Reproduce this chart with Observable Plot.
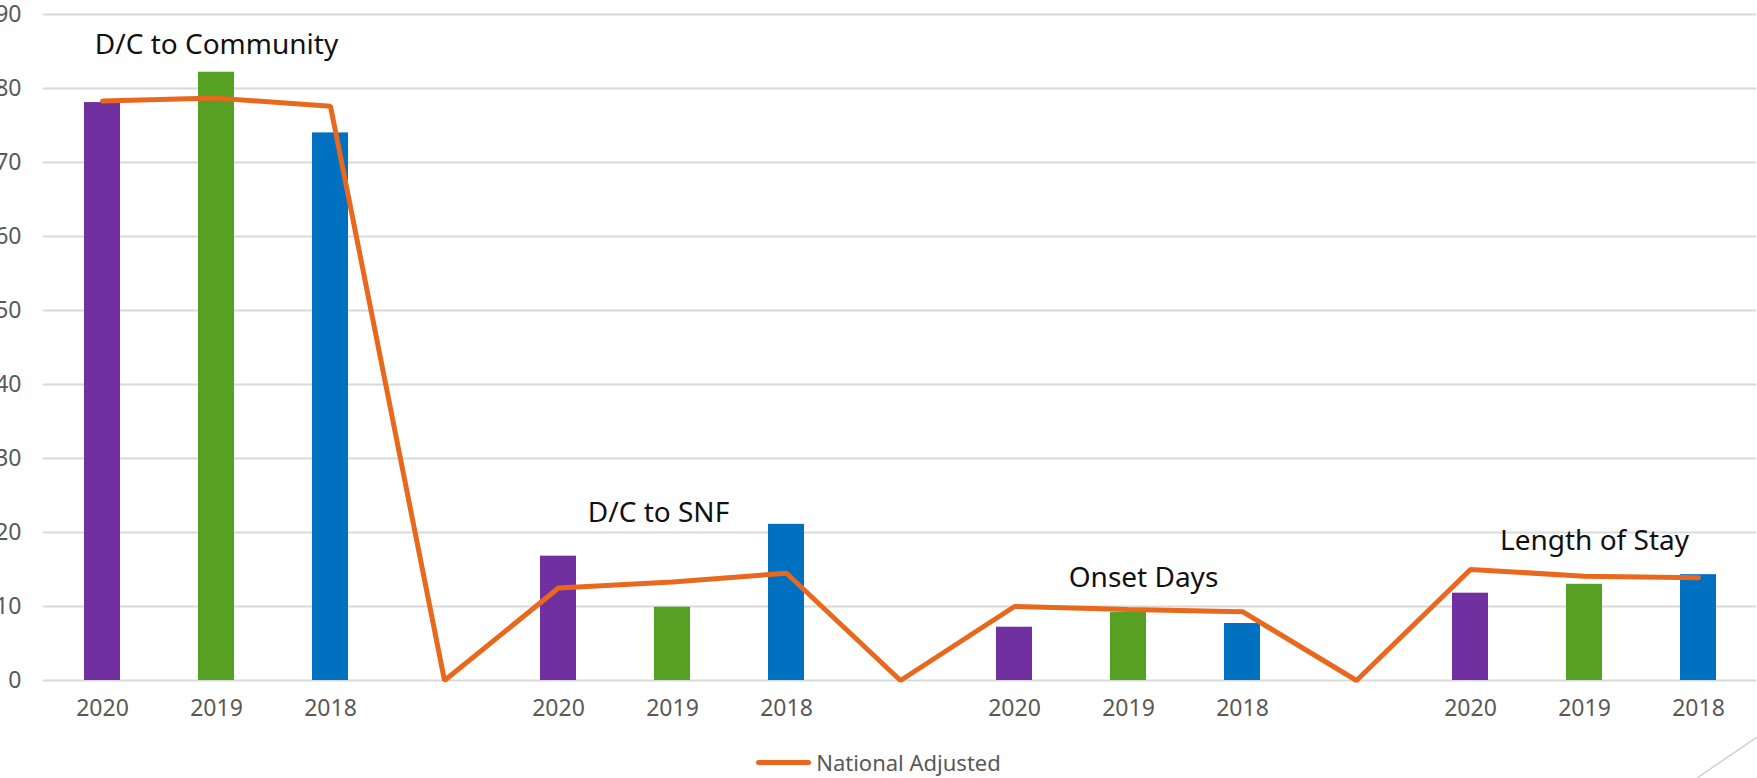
<!DOCTYPE html>
<html>
<head>
<meta charset="utf-8">
<script src="https://cdn.jsdelivr.net/npm/d3@7"></script>
<script src="https://cdn.jsdelivr.net/npm/@observablehq/plot@0.6"></script>
<style>
  html, body { margin: 0; padding: 0; background: #fff; }
  #wrap { position: relative; width: 1757px; height: 778px; overflow: hidden; }
  #legend { display: flex; justify-content: center; align-items: center; height: 32px; margin-top: 11px;
            font-family: "Noto Sans", sans-serif; font-size: 22px; color: #595959; }
  #legend .swatch { width: 55px; height: 5px; border-radius: 3px; background: #E8691D; margin-right: 5px; }
  #deco { position: absolute; left: 0; top: 0; pointer-events: none; }
</style>
</head>
<body>
<div id="wrap">
  <div id="chart"></div>
  <div id="legend"><span class="swatch"></span><span>National Adjusted</span></div>
  <svg id="deco" width="1757" height="778"><line x1="1757" y1="737" x2="1697" y2="778" stroke="#d0d0d0" stroke-width="1.5"/></svg>
</div>
<script>
// ---- data ----
const groups = ["D/C to Community", "D/C to SNF", "Onset Days", "Length of Stay"];
const years = ["2020", "2019", "2018"];
const barValues = [
  [78.1, 82.2, 74.0],
  [16.8, 9.9, 21.1],
  [7.2, 9.2, 7.7],
  [11.8, 13.0, 14.3]
];
const nationalAdjusted = [
  [78.3, 78.7, 77.6],
  [12.5, 13.3, 14.5],
  [10.0, 9.6, 9.3],
  [15.0, 14.1, 13.9]
];
const gapValue = 0;           // national adjusted value at the blank category between groups
const yTicks = [0, 10, 20, 30, 40, 50, 60, 70, 80, 90];
const yearColors = ["#7030A0", "#56A023", "#0070C0"];
// group label: which year slot it sits over, y value of its baseline, horizontal nudge
const groupLabelYear = ["2019", "2019", "2019", "2019"];
const groupLabelY = [84.7, 21.4, 12.6, 17.6];
const groupLabelDx = [0, -14, 15, 10];

// ---- build table ----
const rows = [];
const slots = [];
const tickLabel = new Map();
groups.forEach((g, gi) => {
  years.forEach((yr, yi) => {
    const slot = gi + "-" + yr;
    slots.push(slot);
    tickLabel.set(slot, yr);
    rows.push({slot, group: g, year: yr, value: barValues[gi][yi], national: nationalAdjusted[gi][yi]});
  });
  if (gi < groups.length - 1) {
    const slot = "gap" + gi;
    slots.push(slot);
    tickLabel.set(slot, "");
    rows.push({slot, group: null, year: null, value: null, national: gapValue});
  }
});
const barRows = rows.filter(d => d.year !== null);
const colorOf = new Map(years.map((y, i) => [y, yearColors[i]]));

const labelMarks = groups.map((g, gi) =>
  Plot.text([{slot: gi + "-" + groupLabelYear[gi], y: groupLabelY[gi], t: g}], {
    x: "slot", y: "y", text: "t", dx: groupLabelDx[gi],
    fontSize: 28, fill: "#111", lineAnchor: "bottom", textAnchor: "middle"
  })
);

const chart = Plot.plot({
  width: 1757,
  height: 735,
  marginTop: 14,
  marginBottom: 55,
  marginLeft: 43,
  marginRight: 1,
  style: {fontFamily: "'Noto Sans', sans-serif", fontSize: "23px", color: "#595959", background: "white", overflow: "visible"},
  x: {domain: slots, paddingInner: 0.685, paddingOuter: 0.3425, label: null,
      tickSize: 0, tickPadding: 19, tickFormat: s => tickLabel.get(s)},
  y: {domain: [0, 90], ticks: yTicks, label: null, tickSize: 0, tickPadding: 22},
  marks: [
    Plot.ruleY(yTicks, {stroke: "#d9d9d9", strokeWidth: 2}),
    Plot.barY(barRows, {x: "slot", y: "value", fill: d => colorOf.get(d.year)}),
    Plot.line(rows, {x: "slot", y: "national", stroke: "#E8691D", strokeWidth: 5, strokeLinejoin: "miter"}),
    ...labelMarks
  ]
});
document.getElementById("chart").appendChild(chart);
</script>
</body>
</html>
